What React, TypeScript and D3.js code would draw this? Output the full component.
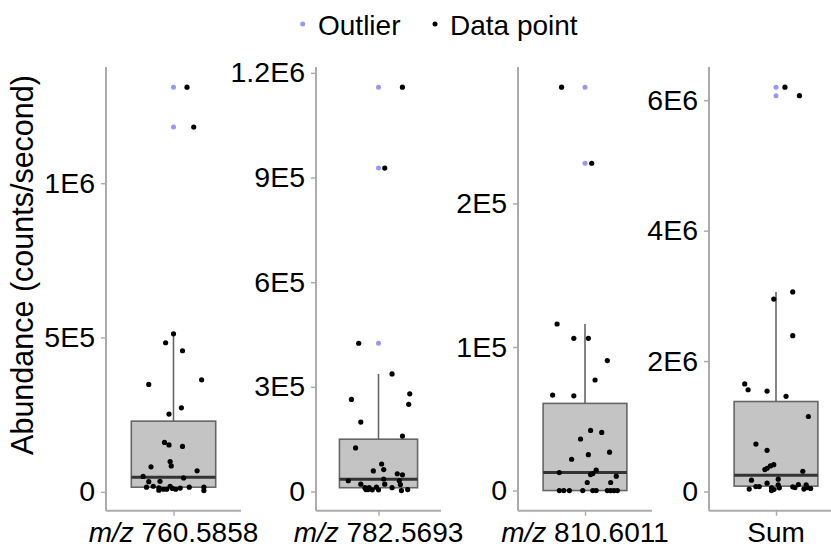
import React, { useEffect, useRef } from "react";
import * as d3 from "d3";

const W = 831;
const H = 549;
const PLOT_TOP = 67;
const PLOT_BOTTOM = 510.7;
const PANEL_LEFT = [106, 316, 518, 709];
const PANEL_WIDTH = [135, 125, 134, 134];
const FONT = "'Liberation Sans', Arial, Helvetica, sans-serif";

// categories (x labels): italic prefix + rest
const labelPrefix = ["m/z", "m/z", "m/z", ""];
const labelRest = [" 760.5858", " 782.5693", " 810.6011", "Sum"];

// y tick values and labels for each panel
const ticks760 = [0, 5e5, 1e6];
const ticks782 = [0, 3e5, 6e5, 9e5, 1.2e6];
const ticks810 = [0, 1e5, 2e5];
const ticksSum = [0, 2e6, 4e6, 6e6];
const tickLabels760 = ["0", "5E5", "1E6"];
const tickLabels782 = ["0", "3E5", "6E5", "9E5", "1.2E6"];
const tickLabels810 = ["0", "1E5", "2E5"];
const tickLabelsSum = ["0", "2E6", "4E6", "6E6"];

// box stats: [whiskerLo, q1, median, q3, whiskerHi]
const box760 = [4.2e3, 1.5e4, 4.7e4, 2.29e5, 5.12e5];
const box782 = [2.9e3, 1.1e4, 3.5e4, 1.5e5, 3.37e5];
const box810 = [0, 0, 1.25e4, 6.07e4, 1.16e5];
const boxSum = [1.5e4, 8.2e4, 2.5e5, 1.38e6, 3.06e6];

// values of the data points
const values760 = [
  1.311e6, 1.182e6, 5.12e5, 4.83e5, 4.57e5, 3.48e5, 3.63e5, 2.72e5, 2.52e5, 1.6e5, 1.52e5,
  1.47e5, 9.8e4, 8.4e4, 8.1e4, 6.8e4, 5.0e4, 4.5e4, 3.3e4, 3.4e4, 1.5e4, 1.8e4, 1.3e4,
  8.4e3, 5.2e3, 1.8e4, 1.1e4, 8.4e3, 8.4e3, 1.2e4, 1.5e4, 1.5e4, 4.2e3,
];
// horizontal jitter of each point (category units)
const jitter760 = [
  0.12, 0.18, 0.0, -0.07, 0.08, -0.22, 0.25, 0.07, -0.04, -0.08, -0.04,
  0.08, -0.03, -0.02, -0.2, 0.21, -0.27, 0.09, -0.22, -0.12, -0.24, -0.18, -0.13,
  -0.09, -0.13, -0.03, -0.01, -0.06, 0.02, 0.06, 0.14, 0.27, 0.27,
];

const values782 = [
  1.159e6, 9.27e5, 4.25e5, 3.37e5, 2.64e5, 2.8e5, 2.5e5, 1.99e5, 1.59e5, 1.25e5, 7.9e4,
  5.9e4, 6.3e4, 5.1e4, 4.8e4, 3.1e4, 3.6e4, 3.1e4, 2.1e4, 2.1e4, 2.0e4, 1.1e4, 5.7e3,
  1.1e4, 4.9e3, 4.9e3, 5.7e3, 2.9e3, 5.7e3, 1.26e4, 1.1e4,
];
const jitter782 = [
  0.23, 0.06, -0.19, 0.13, -0.26, 0.3, 0.29, -0.17, 0.23, -0.22, 0.03,
  -0.05, 0.05, 0.18, 0.23, -0.29, 0.05, 0.2, -0.17, 0.06, 0.21, 0.13, -0.12,
  -0.09, -0.06, 0.0, -0.1, 0.22, 0.28, -0.02, -0.13,
];

const values810 = [
  2.81e5, 2.28e5, 1.16e5, 1.06e5, 1.06e5, 9.05e4, 7.7e4, 6.65e4, 6.6e4, 4.19e4, 4.05e4,
  3.59e4, 2.67e4, 2.5e4, 2.18e4, 1.42e4, 1.25e4, 1.11e4, 1.18e4, 1.0e4, 5.6e3, 5.6e3,
  0, 0, 0, 0, 0, 0, 0, 0, 0, 0,
];
const jitter810 = [
  -0.21, 0.06, -0.25, -0.1, 0.03, 0.2, 0.09, -0.29, -0.1, 0.05, 0.15,
  -0.04, 0.22, 0.03, -0.12, 0.1, -0.23, 0.05, 0.07, 0.28, 0.02, 0.23,
  -0.23, -0.19, -0.14, -0.02, 0.07, 0.1, 0.2, 0.23, 0.26, 0.29,
];

const valuesSum = [
  6.2e6, 6.07e6, 3.06e6, 2.95e6, 2.39e6, 1.65e6, 1.56e6, 1.54e6, 1.46e6, 1.15e6, 7.28e5,
  6.32e5, 4.12e5, 3.92e5, 3.57e5, 3.36e5, 3.11e5, 1.74e5, 1.89e5, 1.28e5, 1.02e5, 1.07e5,
  1.02e5, 3.7e4, 7.6e4, 7.6e4, 5.6e4, 1.5e4, 3.1e4, 5.6e4, 7.2e4, 6.1e4, 3.7e4, 6.1e4, 4.6e4,
];
const jitterSum = [
  0.08, 0.21, 0.15, -0.02, 0.15, -0.28, -0.25, -0.08, 0.09, 0.29, -0.18,
  -0.08, -0.02, -0.05, -0.08, -0.1, 0.24, -0.22, 0.02, -0.08, 0.02, 0.2,
  0.27, -0.24, -0.18, -0.15, -0.04, -0.04, -0.02, 0.03, 0.15, 0.17, 0.25, 0.28, 0.31,
];

const panels = [
  { ticks: ticks760, tickLabels: tickLabels760, box: box760, values: values760, jitter: jitter760 },
  { ticks: ticks782, tickLabels: tickLabels782, box: box782, values: values782, jitter: jitter782 },
  { ticks: ticks810, tickLabels: tickLabels810, box: box810, values: values810, jitter: jitter810 },
  { ticks: ticksSum, tickLabels: tickLabelsSum, box: boxSum, values: valuesSum, jitter: jitterSum },
];

const OUTLIER = "#9797f7";
const AXIS = "#acacac";
const BOX_FILL = "#c4c4c4";
const BOX_LINE = "#666666";

const Panel = ({ i }: { i: number }) => {
  const p = panels[i];
  const axisRef = useRef<SVGGElement>(null);
  const left = PANEL_LEFT[i];
  const x = d3.scaleLinear().domain([0.4, 1.6]).range([left, left + PANEL_WIDTH[i]]);
  const [mn, mx] = d3.extent(p.values) as [number, number];
  const pad = (mx - mn) * 0.05;
  const y = d3.scaleLinear().domain([mn - pad, mx + pad]).range([PLOT_BOTTOM, PLOT_TOP]);
  const [lo, q1, med, q3, hi] = p.box;
  const outliers = p.values.filter((v) => v > hi || v < lo);

  useEffect(() => {
    const g = d3.select(axisRef.current);
    g.selectAll("*").remove();
    const ya = g.append("g").attr("transform", `translate(${left},0)`).call(
      d3.axisLeft(y).tickValues(p.ticks).tickFormat((_d, k) => p.tickLabels[k]).tickSize(5).tickPadding(6)
    );
    ya.select(".domain").remove();
    ya.selectAll(".tick line").attr("stroke", AXIS).attr("stroke-width", 1.5);
    ya.selectAll(".tick text").attr("fill", "#000").style("font-size", "28.5px").style("font-family", FONT);

    const xa = g.append("g").attr("transform", `translate(0,${PLOT_BOTTOM})`).call(
      d3.axisBottom(x).tickValues([1]).tickFormat(() => "").tickSize(5)
    );
    xa.select(".domain").remove();
    xa.selectAll(".tick line").attr("stroke", AXIS).attr("stroke-width", 1.5);
  }, [i]);

  const cx = x(1);
  const bx0 = x(1 - 0.375);
  const bx1 = x(1 + 0.375);

  return (
    <g>
      <line x1={left} x2={left} y1={PLOT_TOP} y2={PLOT_BOTTOM} stroke={AXIS} strokeWidth={2} />
      <line x1={left} x2={x(1.6)} y1={PLOT_BOTTOM} y2={PLOT_BOTTOM} stroke={AXIS} strokeWidth={2} />
      <g ref={axisRef} />
      <line x1={cx} x2={cx} y1={y(q3)} y2={y(hi)} stroke={BOX_LINE} strokeWidth={1.6} />
      <line x1={cx} x2={cx} y1={y(q1)} y2={y(lo)} stroke={BOX_LINE} strokeWidth={1.6} />
      <rect x={bx0} y={y(q3)} width={bx1 - bx0} height={y(q1) - y(q3)} fill={BOX_FILL} stroke={BOX_LINE} strokeWidth={1.6} />
      <line x1={bx0} x2={bx1} y1={y(med)} y2={y(med)} stroke="#333" strokeWidth={3} />
      {outliers.map((v, k) => (
        <circle key={"o" + k} cx={cx} cy={y(v)} r={2.5} fill={OUTLIER} />
      ))}
      {p.values.map((v, k) => (
        <circle key={"p" + k} cx={x(1 + p.jitter[k])} cy={y(v)} r={2.6} fill="#000" />
      ))}
      <text x={cx} y={542} textAnchor="middle" fontSize={28} fontFamily={FONT} fill="#000">
        {labelPrefix[i] && <tspan fontStyle="italic">{labelPrefix[i]}</tspan>}
        <tspan>{labelRest[i]}</tspan>
      </text>
    </g>
  );
};

export default function App() {
  return (
    <svg width={W} height={H} style={{ position: "absolute", left: 0, top: 0, background: "#fff" }}>
      <rect width={W} height={H} fill="#fff" />
      <g fontFamily={FONT}>
        <circle cx={302.7} cy={24} r={2.5} fill={OUTLIER} />
        <text x={318} y={35} fontSize={28}>Outlier</text>
        <circle cx={435} cy={24} r={2.5} fill="#000" />
        <text x={450} y={35} fontSize={28}>Data point</text>
        <text transform="translate(33,265) rotate(-90)" textAnchor="middle" fontSize={30.5}>
          Abundance (counts/second)
        </text>
      </g>
      {panels.map((_, i) => (
        <Panel key={i} i={i} />
      ))}
    </svg>
  );
}
